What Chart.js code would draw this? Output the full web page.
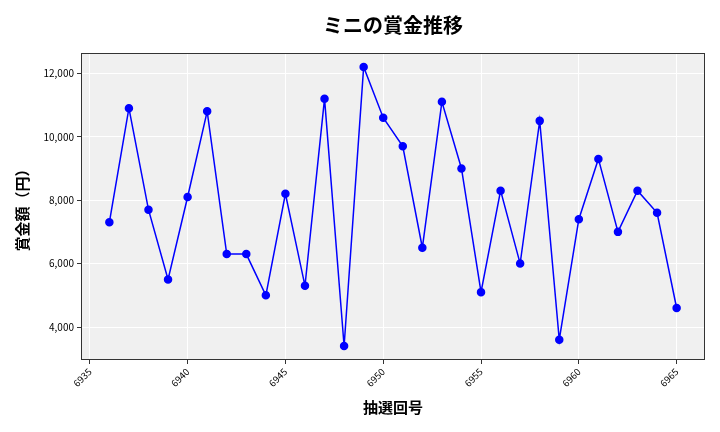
<!DOCTYPE html>
<html>
<head>
<meta charset="utf-8">
<script src="https://cdn.jsdelivr.net/npm/chart.js@4"></script>
<style>
  html, body { margin: 0; padding: 0; background: #fff; }
  #wrap { width: 720px; height: 432px; }
</style>
</head>
<body>
<div id="wrap"><canvas id="chart"></canvas></div>
<script>
const draws = [6936, 6937, 6938, 6939, 6940, 6941, 6942, 6943, 6944, 6945,
               6946, 6947, 6948, 6949, 6950, 6951, 6952, 6953, 6954, 6955,
               6956, 6957, 6958, 6959, 6960, 6961, 6962, 6963, 6964, 6965];
const prizes = [7300, 10900, 7700, 5500, 8100, 10800, 6300, 6300, 5000, 8200,
                5300, 11200, 3400, 12200, 10600, 9700, 6500, 11100, 9000, 5100,
                8300, 6000, 10500, 3600, 7400, 9300, 7000, 8300, 7600, 4600];
const xTicks = [6935, 6940, 6945, 6950, 6955, 6960, 6965];
const yTicks = [4000, 6000, 8000, 10000, 12000];
const chartTitle = 'ミニの賞金推移';

const jpFont = "'Noto Sans CJK JP', 'Noto Sans', sans-serif";

// plot background, frame and title like matplotlib
const frame = {
  id: 'frame',
  beforeDraw(chart) {
    const a = chart.chartArea;
    const ctx = chart.ctx;
    ctx.save();
    ctx.fillStyle = '#f0f0f0';
    ctx.fillRect(a.left, a.top, a.right - a.left, a.bottom - a.top);
    ctx.restore();
  },
  afterDraw(chart) {
    const a = chart.chartArea;
    const ctx = chart.ctx;
    ctx.save();
    ctx.strokeStyle = '#333';
    ctx.lineWidth = 1;
    ctx.strokeRect(a.left + 0.5, a.top + 0.5, a.right - a.left - 1, a.bottom - a.top - 1);
    ctx.fillStyle = '#000';
    ctx.font = "bold 20px " + jpFont;
    ctx.textAlign = 'center';
    ctx.textBaseline = 'middle';
    ctx.fillText(chartTitle, (a.left + a.right) / 2, 25);
    ctx.restore();
  }
};

new Chart(document.getElementById('chart'), {
  type: 'line',
  data: {
    datasets: [{
      data: draws.map((d, i) => ({x: d, y: prizes[i]})),
      borderColor: '#0000ff',
      backgroundColor: '#0000ff',
      borderWidth: 1.5,
      pointRadius: 3.5,
      pointHoverRadius: 3.5,
      tension: 0
    }]
  },
  options: {
    responsive: true,
    maintainAspectRatio: false,
    animation: false,
    layout: { padding: { left: 0, right: 15, top: 53, bottom: 0 } },
    plugins: {
      legend: { display: false },
      tooltip: { enabled: false },
      title: { display: false }
    },
    scales: {
      x: {
        type: 'linear',
        min: 6934.55,
        max: 6966.45,
        afterFit(scale) { scale.height = 72; },
        afterBuildTicks(scale) { scale.ticks = xTicks.map(v => ({value: v})); },
        ticks: {
          minRotation: 45,
          maxRotation: 45,
          color: '#000',
          padding: 2,
          font: { family: jpFont, size: 9.5 },
          callback: v => String(v)
        },
        grid: { color: '#ffffff', lineWidth: 1, tickColor: '#333', tickLength: 4 },
        border: { display: false },
        title: {
          display: true,
          text: '抽選回号',
          color: '#000',
          font: { family: jpFont, size: 15, weight: 'bold', lineHeight: 1.2 },
          padding: { top: 0, bottom: 16 }
        }
      },
      y: {
        min: 2960,
        max: 12640,
        afterFit(scale) { scale.width = 81; },
        afterBuildTicks(scale) { scale.ticks = yTicks.map(v => ({value: v})); },
        ticks: {
          color: '#000',
          padding: 3,
          font: { family: jpFont, size: 10 },
          callback: v => v.toLocaleString('en-US')
        },
        grid: { color: '#ffffff', lineWidth: 1, tickColor: '#333', tickLength: 4 },
        border: { display: false },
        title: {
          display: true,
          text: '賞金額（円）',
          color: '#000',
          font: { family: jpFont, size: 15, weight: 'bold', lineHeight: 1.2 },
          padding: { top: 13, bottom: 0 }
        }
      }
    }
  },
  plugins: [frame]
});
</script>
</body>
</html>
